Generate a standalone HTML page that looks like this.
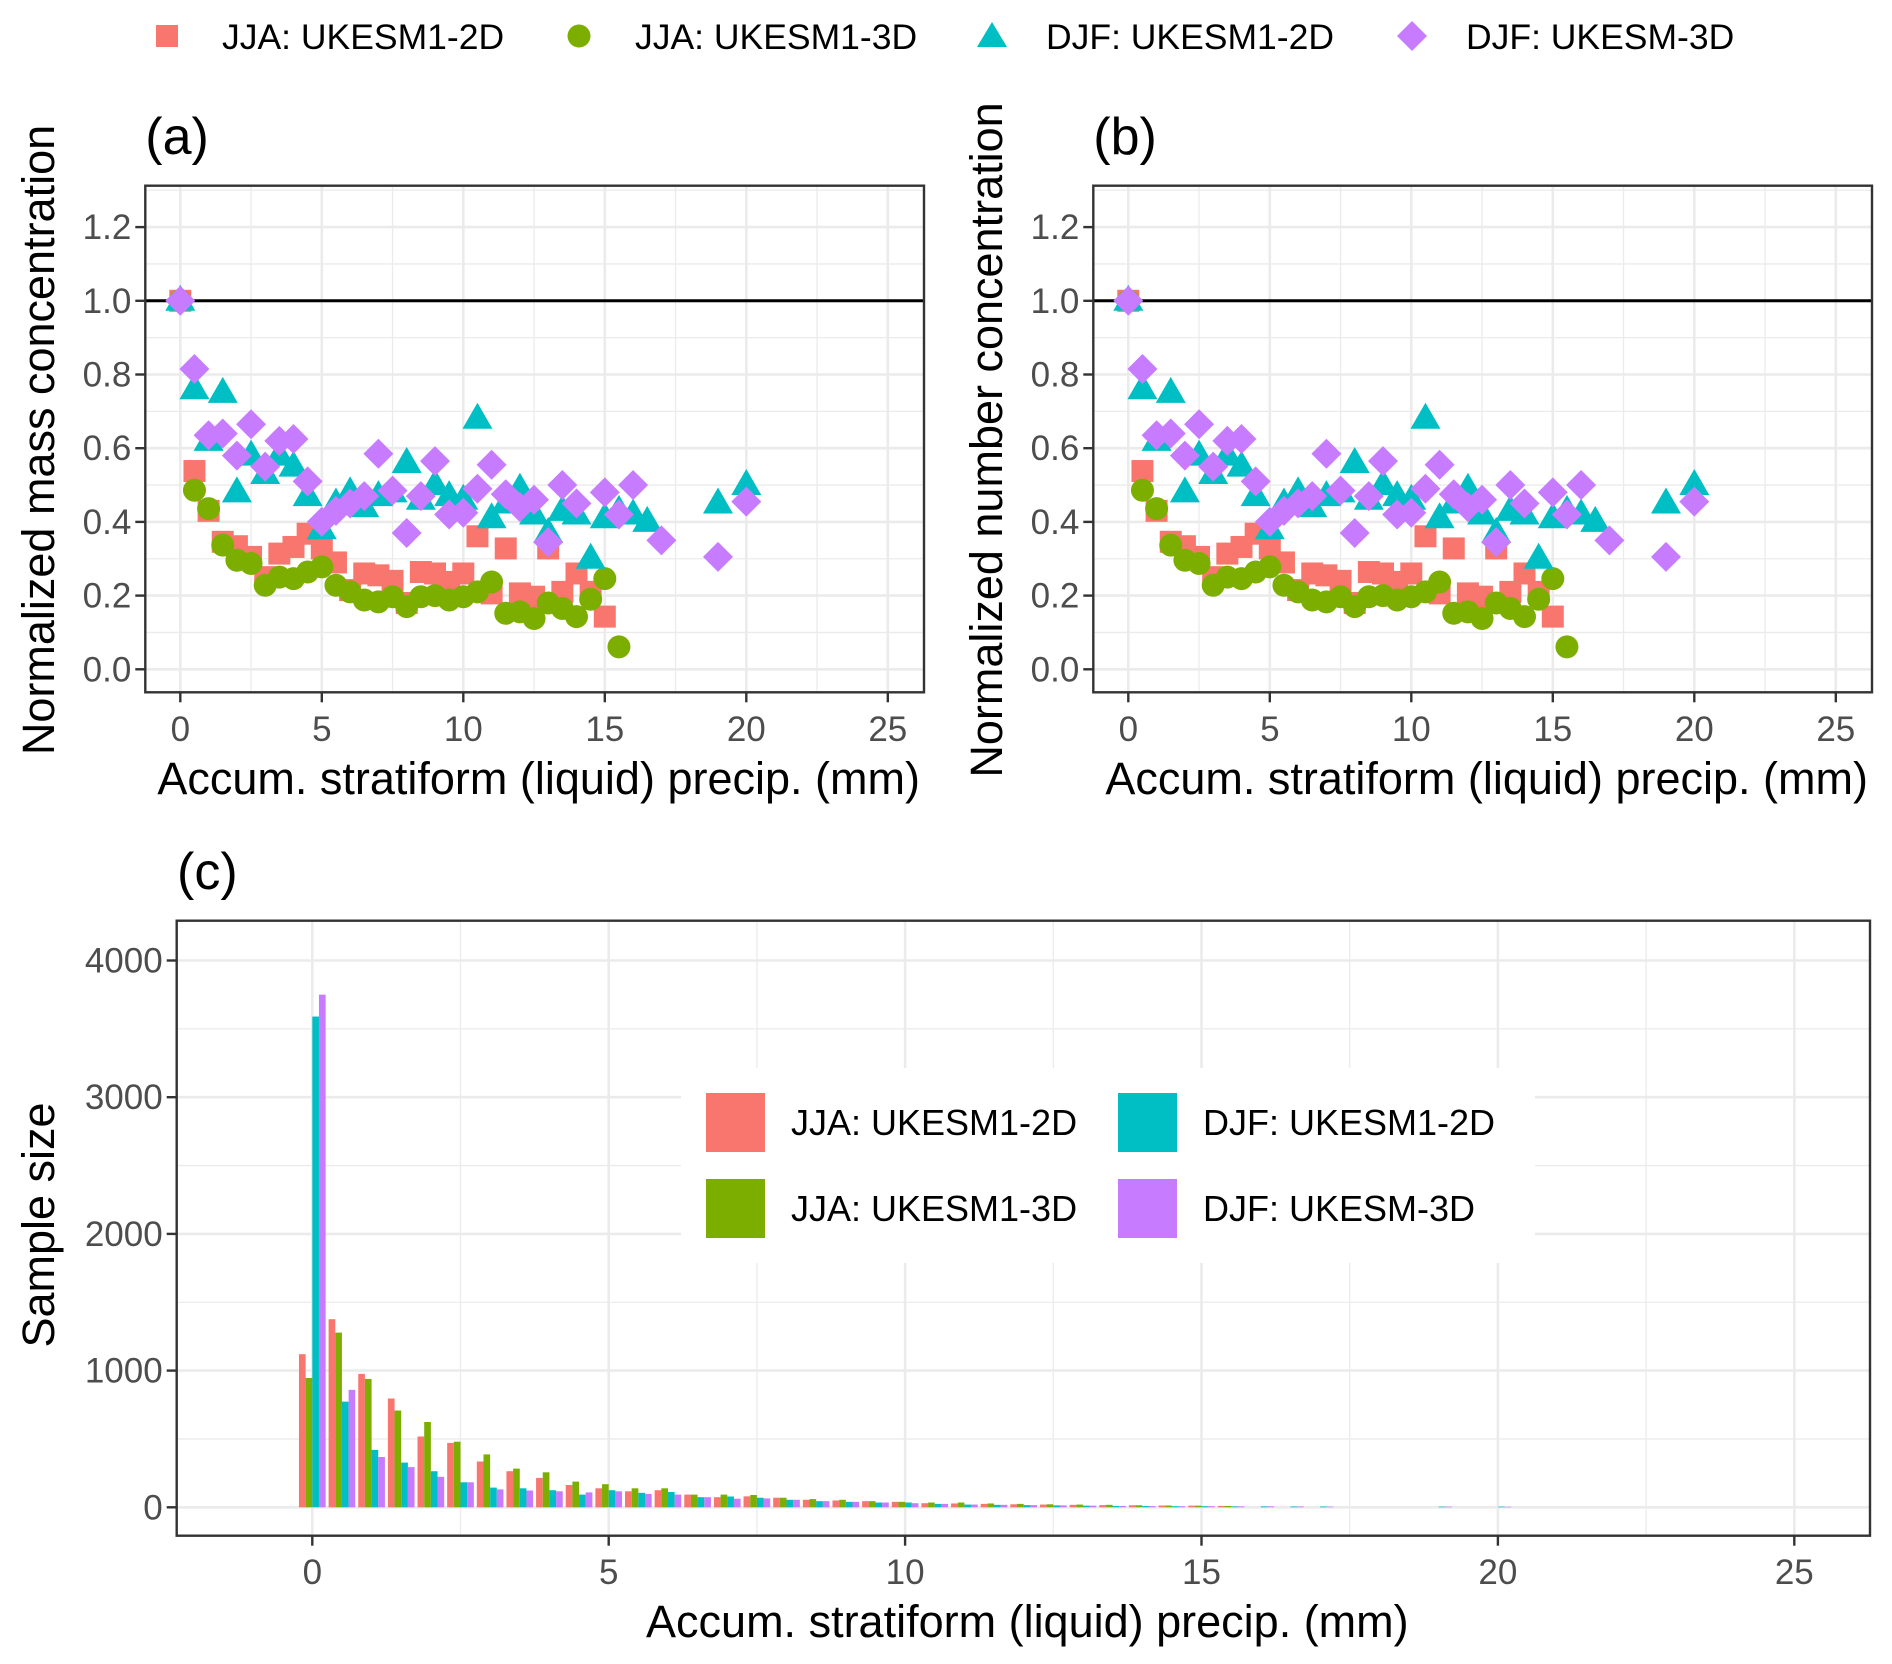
<!DOCTYPE html>
<html><head><meta charset="utf-8"><style>
html,body{margin:0;padding:0;background:#fff;}
svg{display:block;font-family:"Liberation Sans",Arial,sans-serif;}
</style></head><body>
<svg id="fig" width="1892" height="1664" viewBox="0 0 1892 1664" xmlns="http://www.w3.org/2000/svg">
<rect width="1892" height="1664" fill="#fff"/>
<g id="top-legend">
  <rect x="156" y="25" width="22" height="22" fill="#F8766D"/>
  <text x="222" y="49" font-size="35.5" fill="#000">JJA: UKESM1-2D</text>
  <circle cx="579" cy="36" r="11.5" fill="#7CAE00"/>
  <text x="635" y="49" font-size="35.5" fill="#000">JJA: UKESM1-3D</text>
  <polygon points="992,22 1007,47 977,47" fill="#00BFC4"/>
  <text x="1046" y="49" font-size="35.5" fill="#000">DJF: UKESM1-2D</text>
  <polygon points="1412,21 1427,36 1412,51 1397,36" fill="#C77CFF"/>
  <text x="1466" y="49" font-size="35.5" fill="#000">DJF: UKESM-3D</text>
</g>
<g id="pa"></g><g id="pb"></g><g id="pc"></g>
</svg>
<script>
// ---- scatter data (x in mm, value normalized) ----
const scatterX = [0,0.5,1,1.5,2,2.5,3,3.5,4,4.5,5,5.5,6,6.5,7,7.5,8,8.5,9,9.5,10,10.5,11,11.5,12,12.5,13,13.5,14,14.5,15,15.5,16,16.5,17,17.5,18,18.5,19,19.5,20];
const jja2d = [1.0,0.538,0.43,0.346,0.334,0.305,0.25,0.314,0.332,0.368,0.328,0.29,0.215,0.26,0.255,0.24,0.18,0.264,0.26,0.237,0.26,0.361,0.206,0.328,0.206,0.197,0.328,0.21,0.26,0.21,0.143,null,null,null,null,null,null,null,null,null,null];
const jja3d = [1.0,0.486,0.436,0.337,0.296,0.287,0.228,0.25,0.246,0.264,0.278,0.228,0.21,0.188,0.183,0.197,0.17,0.197,0.2,0.188,0.197,0.21,0.237,0.152,0.156,0.138,0.18,0.165,0.143,0.19,0.246,0.061,null,null,null,null,null,null,null,null,null];
const djf2d = [1.0,0.76,0.62,0.75,0.48,0.58,0.53,0.58,0.55,0.47,0.38,0.45,0.48,0.44,0.47,0.48,0.56,0.46,0.5,0.47,0.46,0.68,0.41,0.45,0.49,0.42,0.37,0.43,0.42,0.30,0.41,0.43,0.42,0.40,null,null,null,null,0.45,null,0.50];
const djf3d = [1.0,0.815,0.635,0.64,0.58,0.665,0.55,0.62,0.625,0.51,0.40,0.43,0.45,0.47,0.585,0.485,0.37,0.47,0.565,0.42,0.425,0.49,0.555,0.475,0.44,0.46,0.345,0.50,0.45,null,0.48,0.42,0.50,null,0.35,null,null,null,0.305,null,0.455];
const scatterYTicks = ["0.0","0.2","0.4","0.6","0.8","1.0","1.2"];
const xTicks = ["0","5","10","15","20","25"];
// ---- bar data (bins of 0.5 mm) ----
const barBins = [0,0.5,1,1.5,2,2.5,3,3.5,4,4.5,5,5.5,6,6.5,7,7.5,8,8.5,9,9.5,10,10.5,11,11.5,12,12.5,13,13.5,14,14.5,15,15.5,16,16.5,17,17.5,18,18.5,19,19.5,20];
const barJja2d = [1120,1376,976,796,518,471,335,264,215,163,139,117,125,93,74,80,70,55,50,45,40,30,28,25,22,20,18,16,15,13,12,10,0,0,0,0,0,0,0,0,0];
const barJja3d = [946,1278,939,708,624,480,387,283,256,188,169,139,139,93,93,90,70,60,55,45,40,35,35,28,25,22,20,18,15,13,12,10,0,0,0,0,0,0,0,0,0];
const barDjf2d = [3590,773,420,327,264,183,144,139,125,93,125,106,112,74,79,70,55,45,40,35,35,25,20,18,16,14,12,10,9,8,8,7,7,6,6,0,0,0,5,0,5];
const barDjf3d = [3750,859,368,294,223,183,131,123,117,109,117,98,93,74,63,65,55,45,40,35,30,25,20,18,16,14,12,10,9,8,8,7,7,6,5,0,0,0,5,0,4];
const barYTicks = ["0","1000","2000","3000","4000"];

const NS="http://www.w3.org/2000/svg";
function mk(parent,tag,attrs,text){const e=document.createElementNS(NS,tag);for(const k in attrs)e.setAttribute(k,attrs[k]);if(text!==undefined)e.textContent=text;parent.appendChild(e);return e;}
const COLS=["#F8766D","#7CAE00","#00BFC4","#C77CFF"];
const TICKFS=35, TITLEFS=45;

function scatterPanel(g,L,R,x0,title,ylab,ylabX,tag){
  const T=185.7,B=692.3, y0=669.3, ypu=368.5, xpu=28.3;
  const sx=v=>x0+v*xpu, sy=v=>y0-v*ypu;
  mk(g,'rect',{x:L,y:T,width:R-L,height:B-T,fill:'#fff'});
  for(let v=0.1;v<1.3;v+=0.2){const l=mk(g,'line',{x1:L,x2:R,y1:sy(v),y2:sy(v),stroke:'#ebebeb','stroke-width':1.3});}
  for(let v=2.5;v<26;v+=5){const l=mk(g,'line',{x1:sx(v),x2:sx(v),y1:T,y2:B,stroke:'#ebebeb','stroke-width':1.3});}
  scatterYTicks.forEach(t=>{const v=+t;const l=mk(g,'line',{x1:L,x2:R,y1:sy(v),y2:sy(v),stroke:'#ebebeb','stroke-width':2.6});
    mk(g,'line',{x1:L-10,x2:L,y1:sy(v),y2:sy(v),stroke:'#333','stroke-width':2.4});
    const tx=mk(g,'text',{x:L-14,y:sy(v)+12,'font-size':TICKFS,fill:'#4d4d4d','text-anchor':'end'},t);
    });
  xTicks.forEach(t=>{const v=+t;const l=mk(g,'line',{x1:sx(v),x2:sx(v),y1:T,y2:B,stroke:'#ebebeb','stroke-width':2.6});
    mk(g,'line',{x1:sx(v),x2:sx(v),y1:B,y2:B+10,stroke:'#333','stroke-width':2.4});
    const tx=mk(g,'text',{x:sx(v),y:741,'font-size':TICKFS,fill:'#4d4d4d','text-anchor':'middle'},t);
    });
  const ref=mk(g,'line',{x1:L,x2:R,y1:sy(1),y2:sy(1),stroke:'#000','stroke-width':3});
  
  scatterX.forEach((x,i)=>{
    if(jja2d[i]!=null){const e=mk(g,'rect',{x:sx(x)-11,y:sy(jja2d[i])-11,width:22,height:22,fill:COLS[0]});}
  });
  scatterX.forEach((x,i)=>{
    if(jja3d[i]!=null){const e=mk(g,'circle',{cx:sx(x),cy:sy(jja3d[i]),r:11.5,fill:COLS[1]});}
  });
  scatterX.forEach((x,i)=>{
    if(djf2d[i]!=null){const cx=sx(x),cy=sy(djf2d[i]);const e=mk(g,'polygon',{points:`${cx},${cy-16} ${cx+15},${cy+10} ${cx-15},${cy+10}`,fill:COLS[2]});}
  });
  scatterX.forEach((x,i)=>{
    if(djf3d[i]!=null){const cx=sx(x),cy=sy(djf3d[i]);const e=mk(g,'polygon',{points:`${cx},${cy-15} ${cx+15},${cy} ${cx},${cy+15} ${cx-15},${cy}`,fill:COLS[3]});}
  });
  const bd=mk(g,'rect',{x:L,y:T,width:R-L,height:B-T,fill:'none',stroke:'#333','stroke-width':2.4});
  
  const tl=mk(g,'text',{x:L,y:154,'font-size':52,fill:'#000'},title);
  
  const xl=mk(g,'text',{x:(L+R)/2+4,y:794,'font-size':TITLEFS,fill:'#000','text-anchor':'middle'},'Accum. stratiform (liquid) precip. (mm)');
  
  const yl=mk(g,'text',{x:0,y:0,'font-size':TITLEFS,fill:'#000','text-anchor':'middle',transform:`translate(${ylabX},440) rotate(-90)`},ylab);
  
}
const ga=document.getElementById('pa');


scatterPanel(ga,145.3,924,180.3,'(a)','Normalized mass concentration',54,'a');
const gb=document.getElementById('pb');


scatterPanel(gb,1093.3,1872,1128.3,'(b)','Normalized number concentration',1002,'b');

// panel c
(function(){
  const g=document.getElementById('pc');
  
  
  const L=176.7,R=1870,T=920.7,B=1535.7,x0=312.3,xpu=59.28,y0=1507.3,ypu=0.1367;
  const sx=v=>x0+v*xpu, sy=v=>y0-v*ypu;
  for(let v=500;v<4300;v+=1000){const l=mk(g,'line',{x1:L,x2:R,y1:sy(v),y2:sy(v),stroke:'#ebebeb','stroke-width':1.3});}
  for(let v=2.5;v<26;v+=5){const l=mk(g,'line',{x1:sx(v),x2:sx(v),y1:T,y2:B,stroke:'#ebebeb','stroke-width':1.3});}
  barYTicks.forEach(t=>{const v=+t;const l=mk(g,'line',{x1:L,x2:R,y1:sy(v),y2:sy(v),stroke:'#ebebeb','stroke-width':2.6});
    mk(g,'line',{x1:L-10,x2:L,y1:sy(v),y2:sy(v),stroke:'#333','stroke-width':2.4});
    const tx=mk(g,'text',{x:L-14,y:sy(v)+12,'font-size':TICKFS,fill:'#4d4d4d','text-anchor':'end'},t);
    });
  xTicks.forEach(t=>{const v=+t;const l=mk(g,'line',{x1:sx(v),x2:sx(v),y1:T,y2:B,stroke:'#ebebeb','stroke-width':2.6});
    mk(g,'line',{x1:sx(v),x2:sx(v),y1:B,y2:B+10,stroke:'#333','stroke-width':2.4});
    const tx=mk(g,'text',{x:sx(v),y:1584,'font-size':TICKFS,fill:'#4d4d4d','text-anchor':'middle'},t);
    });
  const series=[barJja2d,barJja3d,barDjf2d,barDjf3d];
  const names=['bar-jja-2d','bar-jja-3d','bar-djf-2d','bar-djf-3d'];
  const gw=0.45*xpu, bw=gw/4;
  barBins.forEach((b,i)=>{
    series.forEach((s,k)=>{
      const v=s[i]; if(!v) return;
      const x=sx(b)-gw/2+k*bw;
      const e=mk(g,'rect',{x:x,y:sy(v),width:bw,height:y0-sy(v),fill:COLS[k]});
      
      
    });
  });
  const lg=mk(g,'g',{});
  
  
  mk(lg,'rect',{x:681,y:1068,width:854,height:195,fill:'#fff'});
  const items=[[706,1093,'JJA: UKESM1-2D',0],[706,1179,'JJA: UKESM1-3D',1],[1118,1093,'DJF: UKESM1-2D',2],[1118,1179,'DJF: UKESM-3D',3]];
  items.forEach(it=>{
    const k=mk(lg,'rect',{x:it[0],y:it[1],width:59,height:59,fill:COLS[it[3]]});
    
    const t=mk(lg,'text',{x:it[0]+85,y:it[1]+42,'font-size':36,fill:'#000'},it[2]);
    
  });
  const bd=mk(g,'rect',{x:L,y:T,width:R-L,height:B-T,fill:'none',stroke:'#333','stroke-width':2.4});
  
  const tl=mk(g,'text',{x:177,y:889,'font-size':52,fill:'#000'},'(c)');
  
  const xl=mk(g,'text',{x:(L+R)/2+4,y:1637,'font-size':TITLEFS,fill:'#000','text-anchor':'middle'},'Accum. stratiform (liquid) precip. (mm)');
  
  const yl=mk(g,'text',{x:0,y:0,'font-size':TITLEFS,fill:'#000','text-anchor':'middle',transform:'translate(54,1225) rotate(-90)'},'Sample size');
  
})();
</script>
</body></html>
